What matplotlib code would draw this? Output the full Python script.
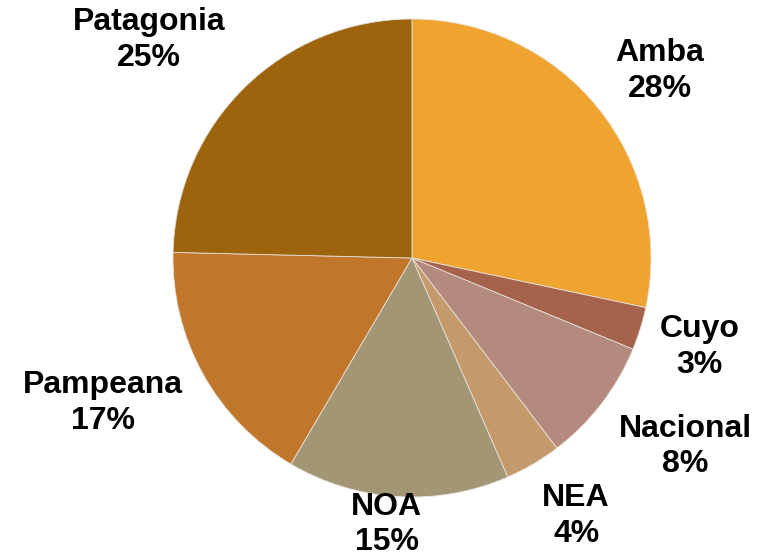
import matplotlib
matplotlib.use("Agg")
import matplotlib.pyplot as plt
import numpy as np

categories = ["Amba", "Cuyo", "Nacional", "NEA", "NOA", "Pampeana", "Patagonia"]
values = [28.3, 2.9, 8.4, 3.8, 15.0, 16.9, 24.6]
colors = ["#F0A430", "#A5634C", "#B58A7E", "#C49A6C", "#A39674", "#C0762B", "#9C640D"]

# label placement: (radius factor, angle offset in degrees, clockwise)
label_r = [1.30, 1.26, 1.39, 1.28, 1.12, 1.43, 1.43]
label_da = [2, 0, -3, -2, 2, 4, -6]

W, H = 769, 557
cx, cy, R = 412, 258, 239

fig = plt.figure(figsize=(W / 100, H / 100), dpi=100)
ax = fig.add_axes([0, 0, 1, 1])

wedges, _ = ax.pie(values, colors=colors, startangle=90, counterclock=False,
                   radius=1.0, center=(0, 0),
                   wedgeprops=dict(edgecolor="#E8E0D8", linewidth=0.6))

total = sum(values)
cum = 0.0
for i, (cat, v) in enumerate(zip(categories, values)):
    mid = (cum + v / 2) / total * 360.0 + label_da[i]
    cum += v
    ang = np.deg2rad(90 - mid)
    x = label_r[i] * np.cos(ang)
    y = label_r[i] * np.sin(ang)
    ax.text(x, y, f"{cat}\n{v:.0f}%", ha="center", va="center",
            fontsize=23, fontweight="bold", family="Liberation Sans",
            linespacing=1.25, color="black")

ax.set_xlim(-cx / R, (W - cx) / R)
ax.set_ylim(-(H - cy) / R, cy / R)
ax.set_aspect("auto")
ax.axis("off")

fig.savefig("out.png", dpi=100)
